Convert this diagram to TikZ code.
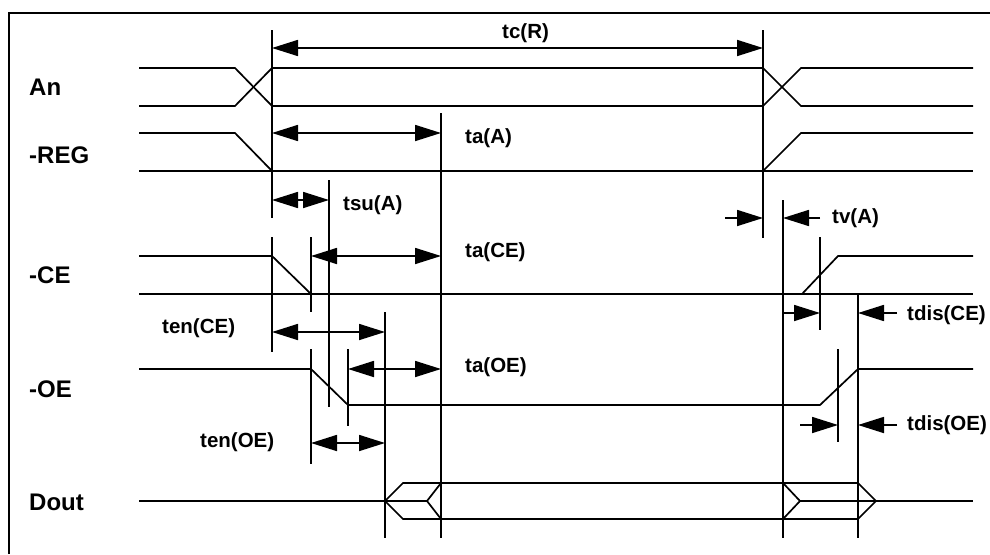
\documentclass[tikz,border=0pt]{standalone}
\usepackage{fontspec}
\setmainfont{Liberation Sans}
\usetikzlibrary{arrows.meta}
\tikzset{
  sig/.style={line width=1.7pt, line join=miter},
  tickline/.style={line width=1.7pt},
  dimboth/.style={line width=1.7pt, {Triangle[length=26pt,width=16pt]}-{Triangle[length=26pt,width=16pt]}},
  dimone/.style={line width=1.7pt, -{Triangle[length=26pt,width=16pt]}},
  siglabel/.style={anchor=base west, inner sep=0pt, font=\fontsize{24pt}{28pt}\selectfont\bfseries},
  tlabel/.style={anchor=base west, inner sep=0pt, font=\fontsize{20.5pt}{24pt}\selectfont\bfseries},
}
\begin{document}
\begin{tikzpicture}[x=1pt,y=-1pt]
\useasboundingbox (0,0) rectangle (990,554);
\fill[white] (0,0) rectangle (990,554);
% frame (partly outside the picture)
\draw[tickline] (9,554) -- (9,13) -- (990,13);

% signal labels
\node[siglabel] (lAn)   at (29,95)  {An};
\node[siglabel] (lREG)  at (29,163) {-REG};
\node[siglabel] (lCE)   at (29,283) {-CE};
\node[siglabel] (lOE)   at (29,397) {-OE};
\node[siglabel] (lDout) at (29,510) {Dout};

% An
\draw[sig] (139,68) -- (235,68) -- (272,106) -- (763,106) -- (801,68) -- (973,68);
\draw[sig] (139,106) -- (235,106) -- (272,68) -- (763,68) -- (801,106) -- (973,106);
% -REG
\draw[sig] (139,133) -- (235,133) -- (272,171);
\draw[sig] (139,171) -- (973,171);
\draw[sig] (763,171) -- (801,133) -- (973,133);
% -CE
\draw[sig] (139,256) -- (272,256) -- (311,294);
\draw[sig] (139,294) -- (973,294);
\draw[sig] (802,294) -- (838,256) -- (973,256);
% -OE
\draw[sig] (139,369) -- (311,369) -- (348,405) -- (820,405) -- (858,369) -- (973,369);
% Dout
\draw[sig] (139,501) -- (427,501);
\draw[sig] (441,483) -- (427,501) -- (441,519);
\draw[sig] (385,501) -- (403,483) -- (858,483) -- (876,501) -- (858,519) -- (403,519) -- cycle;
\draw[sig] (783,483) -- (800,501) -- (783,519);
\draw[sig] (800,501) -- (973,501);

% marker lines
\draw[tickline] (272,30) -- (272,218);
\draw[tickline] (272,237) -- (272,352);
\draw[tickline] (763,30) -- (763,238);
\draw[tickline] (441,113) -- (441,538);
\draw[tickline] (329,180) -- (329,407);
\draw[tickline] (311,237) -- (311,312);
\draw[tickline] (311,349) -- (311,464);
\draw[tickline] (385,312) -- (385,538);
\draw[tickline] (348,349) -- (348,426);
\draw[tickline] (783,200) -- (783,538);
\draw[tickline] (820,237) -- (820,330);
\draw[tickline] (858,293) -- (858,538);
\draw[tickline] (838,349) -- (838,442);

% dimension arrows
\draw[dimboth] (272,48) -- (763,48);
\draw[dimboth] (272,133) -- (441,133);
\draw[dimboth] (272,200) -- (329,200);
\draw[dimboth] (311,256) -- (441,256);
\draw[dimboth] (272,332) -- (385,332);
\draw[dimboth] (348,369) -- (441,369);
\draw[dimboth] (311,443) -- (385,443);
\draw[dimone] (725,218) -- (763,218);
\draw[dimone] (820,218) -- (783,218);
\draw[dimone] (783,313) -- (820,313);
\draw[dimone] (897,313) -- (858,313);
\draw[dimone] (800,425) -- (838,425);
\draw[dimone] (897,425) -- (858,425);

% timing labels
\node[tlabel] (tcR)    at (502,38)  {tc(R)};
\node[tlabel] (taA)    at (465,143) {ta(A)};
\node[tlabel] (tsuA)   at (343,210) {tsu(A)};
\node[tlabel] (taCE)   at (465,257) {ta(CE)};
\node[tlabel] (tenCE)  at (162,333) {ten(CE)};
\node[tlabel] (taOE)   at (465,372) {ta(OE)};
\node[tlabel] (tenOE)  at (200,447) {ten(OE)};
\node[tlabel] (tvA)    at (832,223) {tv(A)};
\node[tlabel] (tdisCE) at (907,320) {tdis(CE)};
\node[tlabel] (tdisOE) at (907,430) {tdis(OE)};
\end{tikzpicture}
\end{document}
